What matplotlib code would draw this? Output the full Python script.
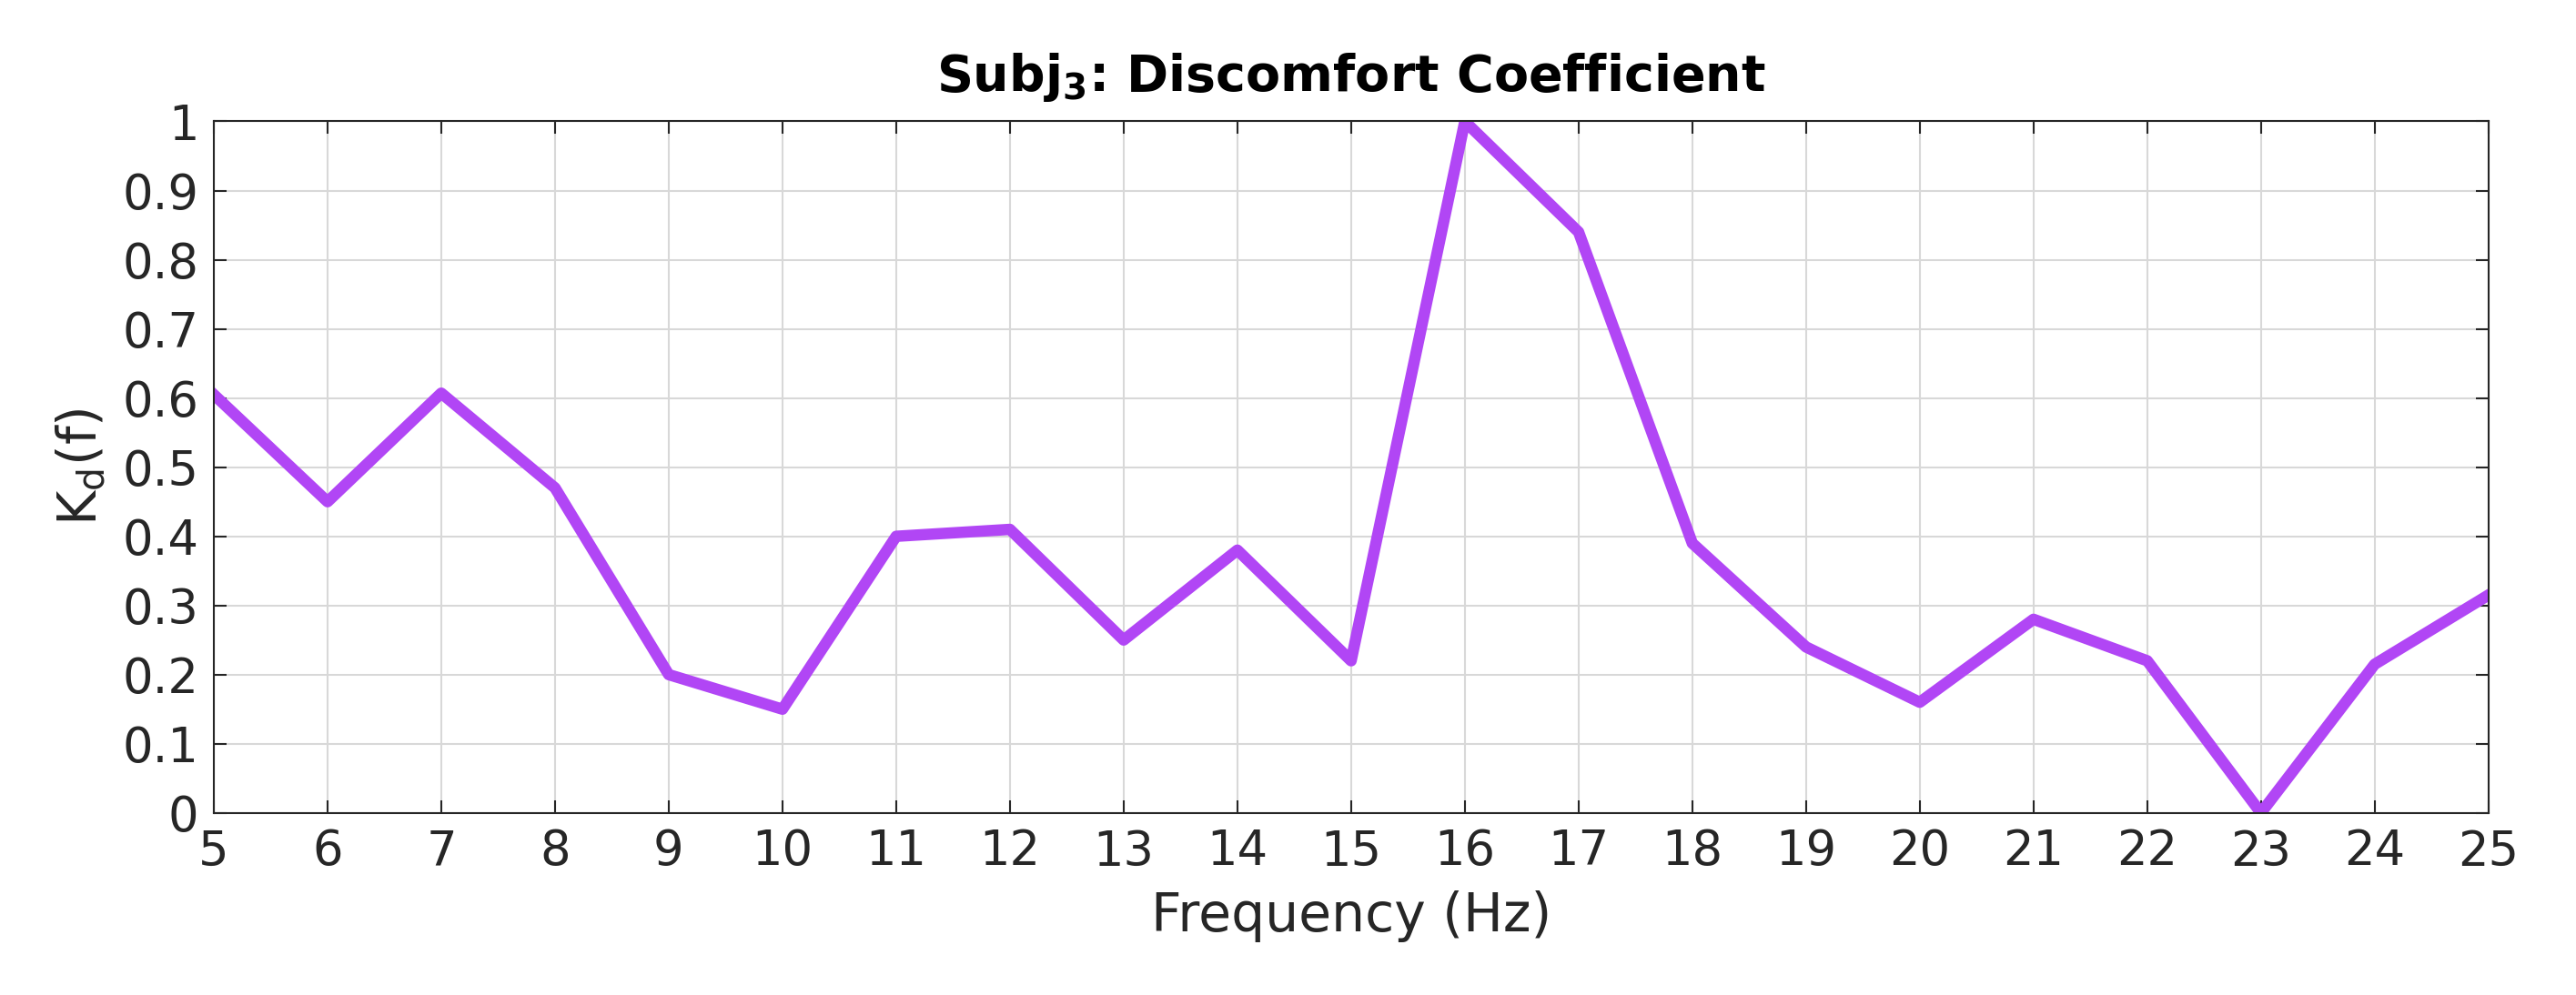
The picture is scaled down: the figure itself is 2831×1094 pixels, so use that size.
import matplotlib
matplotlib.use("Agg")
import matplotlib.pyplot as plt
import numpy as np

freq = [5, 6, 7, 8, 9, 10, 11, 12, 13, 14, 15, 16, 17, 18, 19, 20, 21, 22, 23, 24, 25]
kd = [0.605, 0.45, 0.607, 0.47, 0.20, 0.15, 0.40, 0.41, 0.25, 0.38, 0.22,
      1.00, 0.84, 0.39, 0.24, 0.16, 0.28, 0.22, 0.0, 0.215, 0.315]

fig = plt.figure(figsize=(28.31, 10.94), dpi=100)
ax = fig.add_axes([0.083, 0.183, 0.883, 0.695])

ax.plot(freq, kd, color='#B146F5', linewidth=9, solid_joinstyle='round')

ax.set_xlim(5, 25)
ax.set_ylim(0, 1)
ax.set_xticks(np.arange(5, 26, 1))
ax.set_yticks(np.arange(0, 1.01, 0.1))
ax.set_yticklabels(['0'] + [f'{v:.1f}' for v in np.arange(0.1, 1.0, 0.1)] + ['1'])
ax.tick_params(labelsize=38, direction='in', length=10, width=1.5, colors='#262626',
               top=True, right=True, pad=12)
ax.grid(True, color='#d8d8d8', linewidth=1.5)
for s in ax.spines.values():
    s.set_linewidth(1.5)
    s.set_color('#262626')

ax.set_xlabel('Frequency (Hz)', fontsize=42, color='#262626', labelpad=12)
ax.set_ylabel(r'K$_\mathregular{d}$(f)', fontsize=42, color='#262626', labelpad=12)
ax.set_title(r'Subj$_\mathbf{3}$: Discomfort Coefficient', fontsize=40,
             fontweight='bold', pad=24)

fig.savefig('out.png', dpi=100)
